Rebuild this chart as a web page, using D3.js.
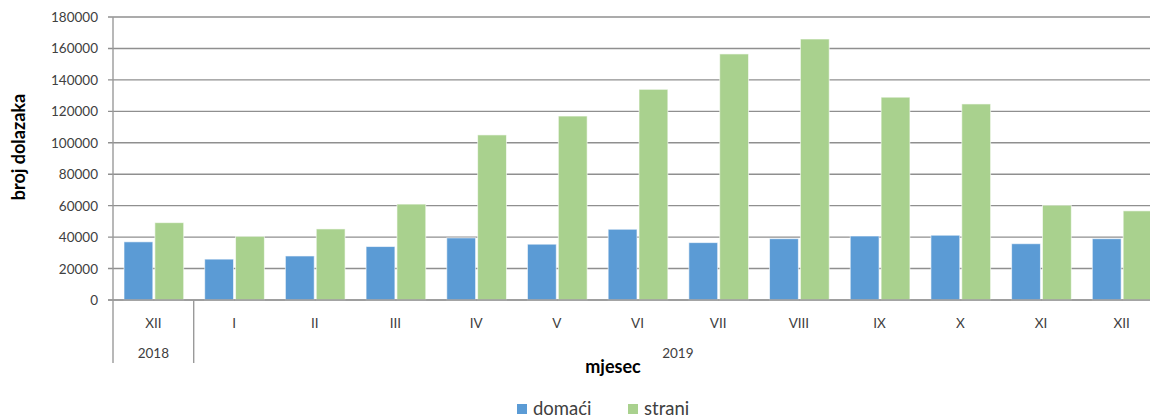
<!DOCTYPE html>
<html>
<head>
<meta charset="utf-8">
<script src="https://cdn.jsdelivr.net/npm/d3@7"></script>
<style>
  body { margin: 0; background: #fff; }
  text { font-family: Lato, "Open Sans", sans-serif; }
</style>
</head>
<body>
<div id="chart"></div>
<script>
const w = 1150, h = 419

// data
const months = ["XII", "I", "II", "III", "IV", "V", "VI", "VII", "VIII", "IX", "X", "XI", "XII"]
const years = ["2018", "2019"]
const yearSpans = [[0, 0], [1, 12]]
const seriesNames = ["domaći", "strani"]
const domaci = [37000, 26000, 28000, 34000, 39500, 35500, 45000, 36500, 39000, 40700, 41200, 35800, 39000]
const strani = [49200, 40500, 45200, 61000, 105000, 117000, 134000, 156500, 166000, 129000, 124700, 60300, 56700]
const yTicks = [0, 20000, 40000, 60000, 80000, 100000, 120000, 140000, 160000, 180000]
const colors = ["#5b9bd5", "#a9d18e"]

const plotLeft = 113, plotRight = 1162, plotTop = 17, plotBottom = 300

//scales
const x0 = d3.scaleBand()
    .domain(d3.range(months.length))
    .range([plotLeft, plotRight])

const x1 = d3.scaleBand()
    .domain([0, 1])
    .range([11, x0.bandwidth() - 10])
    .paddingInner(0.066)

const y = d3.scaleLinear()
    .domain([0, 180000])
    .range([plotBottom, plotTop])

const svg = d3.select("#chart").append("svg")
    .attr("width", w)
    .attr("height", h)

// grid lines + y ticks
svg.append("g").selectAll("line.grid")
    .data(yTicks)
    .enter()
    .append("line")
    .attr("class", "grid")
    .attr("x1", plotLeft - 5)
    .attr("x2", plotRight)
    .attr("y1", d => y(d))
    .attr("y2", d => y(d))
    .attr("stroke", "#8f8f8f")
    .attr("stroke-width", 1.4)

svg.append("g").selectAll("text.ytick")
    .data(yTicks)
    .enter()
    .append("text")
    .attr("class", "ytick")
    .attr("x", plotLeft - 15)
    .attr("y", d => y(d) + 5)
    .attr("text-anchor", "end")
    .attr("font-size", 13.5)
    .attr("fill", "#404040")
    .text(d => d)

// bars
const series = [domaci, strani]
const groups = svg.append("g").selectAll("g.group")
    .data(months)
    .enter()
    .append("g")
    .attr("class", "group")
    .attr("transform", (d, i) => "translate(" + x0(i) + ",0)")

groups.selectAll("rect")
    .data((d, i) => series.map((s, k) => ({ k: k, v: s[i] })))
    .enter()
    .append("rect")
    .attr("x", d => x1(d.k))
    .attr("width", x1.bandwidth())
    .attr("y", d => y(d.v))
    .attr("height", d => y(0) - y(d.v))
    .attr("fill", d => colors[d.k])
    .attr("stroke", "#ffffff")
    .attr("stroke-opacity", 0.6)
    .attr("stroke-width", 1)

// axes lines
svg.append("line")
    .attr("x1", plotLeft).attr("x2", plotLeft)
    .attr("y1", plotTop).attr("y2", 363)
    .attr("stroke", "#9a9a9a")
    .attr("stroke-width", 1.4)

svg.append("line")
    .attr("x1", plotLeft - 5).attr("x2", plotRight)
    .attr("y1", plotBottom).attr("y2", plotBottom)
    .attr("stroke", "#9a9a9a")
    .attr("stroke-width", 1.6)

// year separators
svg.append("line")
    .attr("x1", x0(1)).attr("x2", x0(1))
    .attr("y1", plotBottom).attr("y2", 363)
    .attr("stroke", "#9a9a9a")
    .attr("stroke-width", 1.4)

// month labels
svg.append("g").selectAll("text.month")
    .data(months)
    .enter()
    .append("text")
    .attr("class", "month")
    .attr("x", (d, i) => x0(i) + x0.bandwidth() / 2)
    .attr("y", 328)
    .attr("text-anchor", "middle")
    .attr("font-size", 13.5)
    .attr("fill", "#404040")
    .text(d => d)

// year labels
svg.append("g").selectAll("text.year")
    .data(years)
    .enter()
    .append("text")
    .attr("class", "year")
    .attr("x", (d, i) => (x0(yearSpans[i][0]) + x0(yearSpans[i][1]) + x0.bandwidth()) / 2)
    .attr("y", 358)
    .attr("text-anchor", "middle")
    .attr("font-size", 13.5)
    .attr("fill", "#404040")
    .text(d => d)

// axis titles
svg.append("text")
    .attr("transform", "translate(25,147) rotate(-90)")
    .attr("text-anchor", "middle")
    .attr("font-size", 18)
    .attr("font-weight", "bold")
    .attr("fill", "#000")
    .text("broj dolazaka")

svg.append("text")
    .attr("x", 613)
    .attr("y", 373)
    .attr("text-anchor", "middle")
    .attr("font-size", 18)
    .attr("font-weight", "bold")
    .attr("fill", "#000")
    .text("mjesec")

// legend
const legendX = [517, 628]
const legend = svg.append("g").selectAll("g.legend")
    .data(seriesNames)
    .enter()
    .append("g")
    .attr("class", "legend")
    .attr("transform", (d, i) => "translate(" + legendX[i] + ",404)")

legend.append("rect")
    .attr("width", 10)
    .attr("height", 10)
    .attr("fill", (d, i) => colors[i])

legend.append("text")
    .attr("x", 16)
    .attr("y", 11)
    .attr("font-size", 18.5)
    .attr("fill", "#404040")
    .text(d => d)
</script>
</body>
</html>
